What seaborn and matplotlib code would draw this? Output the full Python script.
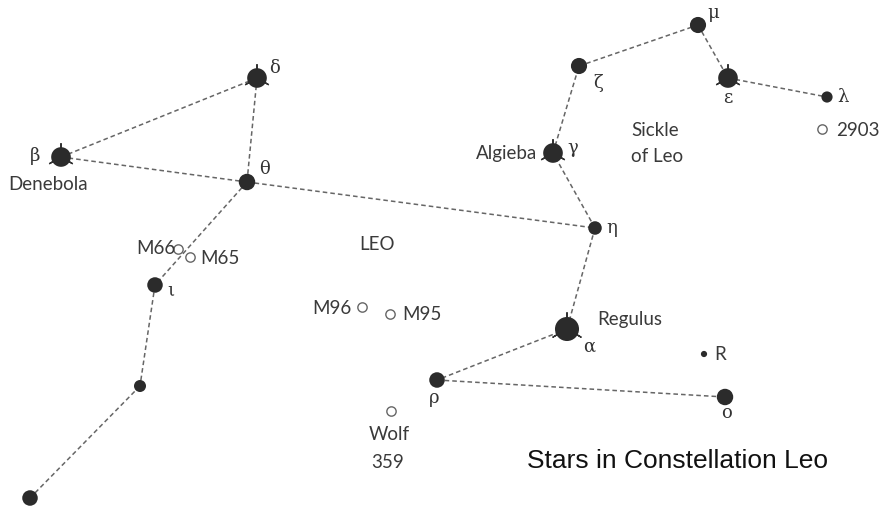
# Star chart of the constellation Leo, recreated with seaborn/matplotlib.
# Positions are in image pixel units (x right, y down).

import numpy as np
import pandas as pd
import matplotlib
matplotlib.use("Agg")
import matplotlib.pyplot as plt
import seaborn as sns

# ---------------------------------------------------------------------------
# Data
# ---------------------------------------------------------------------------

star_names = ["beta", "delta", "theta", "iota", "ups", "sigma", "eta", "gamma",
              "zeta", "mu", "epsilon", "lambda", "alpha", "rho", "omicron", "R"]
star_x = [61, 257, 247, 155, 140, 30, 595, 553, 579, 698, 728, 827, 567, 437, 725, 704]
star_y = [157, 78, 182, 285, 386, 498, 228, 153, 66, 25, 78, 97, 329, 380, 397, 354]
star_size = [200, 200, 140, 125, 75, 125, 95, 200, 135, 135, 200, 65, 300, 125, 140, 20]

# Bright stars drawn with little spikes
spiked_stars = ["beta", "delta", "gamma", "epsilon", "alpha"]

# Deep-sky objects (open circles)
dso_names = ["M66", "M65", "M96", "M95", "Wolf 359", "2903"]
dso_x = [178, 190, 362, 390, 391, 822]
dso_y = [249, 257, 307, 314, 411, 129]

# Stick-figure segments (pairs of star names)
segments = [("beta", "delta"), ("beta", "theta"), ("delta", "theta"),
            ("theta", "eta"), ("theta", "iota"), ("iota", "ups"),
            ("ups", "sigma"), ("eta", "gamma"), ("gamma", "zeta"),
            ("zeta", "mu"), ("mu", "epsilon"), ("epsilon", "lambda"),
            ("eta", "alpha"), ("alpha", "rho"), ("rho", "omicron")]

# Greek letter labels
greek_labels = ["β", "δ", "θ", "ι", "η", "γ", "ζ", "μ", "ε", "λ", "α", "ρ", "ο"]
greek_x = [35, 275, 265, 171, 612, 573, 598, 713, 728, 843, 589, 434, 726]
greek_y = [156, 68, 169, 291, 228, 148, 83, 13, 98, 97, 347, 398, 413]

# Name labels
name_labels = ["Denebola", "M66", "M65", "LEO", "M96", "M95", "Wolf", "359",
               "Algieba", "Regulus", "R", "2903", "Sickle", "of Leo"]
name_x = [8, 176, 200, 359, 352, 402, 369, 371, 537, 597, 714, 836, 631, 631]
name_y = [185, 249, 258, 244, 308, 315, 435, 462, 153, 319, 354, 130, 131, 157]
name_ha = ["left", "right", "left", "left", "right", "left", "left", "left",
           "right", "left", "left", "left", "left", "left"]

title_text = "Stars in Constellation Leo"

# ---------------------------------------------------------------------------
# Figure
# ---------------------------------------------------------------------------

sns.set_style("white")
plt.rcParams["font.family"] = ["Lato", "DejaVu Sans"]

fig = plt.figure(figsize=(8.89, 5.11), dpi=100)
ax = fig.add_axes([0, 0, 1, 1])
ax.set_xlim(0, 889)
ax.set_ylim(511, 0)
ax.axis("off")

stars = pd.DataFrame({"name": star_names, "x": star_x, "y": star_y, "s": star_size})
pos = {n: (x, y) for n, x, y in zip(star_names, star_x, star_y)}

# Dashed connecting lines
for a, b in segments:
    ax.plot([pos[a][0], pos[b][0]], [pos[a][1], pos[b][1]],
            color="#666666", lw=1.1, ls=(0, (3, 2)), zorder=1)

# Spikes behind bright stars
spiked = stars[stars["name"].isin(spiked_stars)]
ax.scatter(spiked["x"], spiked["y"], s=spiked["s"] * 1.8, marker=(3, 2, 0),
           color="#333333", lw=1.0, zorder=2)

# Filled stars
sns.scatterplot(data=stars, x="x", y="y", size="s", sizes=(min(star_size), max(star_size)),
                color="#2b2b2b", edgecolor="none", legend=False, ax=ax, zorder=3)

# Deep-sky objects
dso = pd.DataFrame({"name": dso_names, "x": dso_x, "y": dso_y})
sns.scatterplot(data=dso, x="x", y="y", s=45, facecolor="white", edgecolor="#666666",
                linewidth=1.0, legend=False, ax=ax, zorder=3)

# Labels
for t, x, y in zip(greek_labels, greek_x, greek_y):
    ax.text(x, y, t, fontsize=13, color="#333333", ha="center", va="center",
            family=["DejaVu Serif"])

for t, x, y, ha in zip(name_labels, name_x, name_y, name_ha):
    ax.text(x, y, t, fontsize=13.5, color="#3a3a3a", ha=ha, va="center")

ax.text(527, 461, title_text, fontsize=19, color="#111111", ha="left", va="center",
        family=["Liberation Sans"])

fig.savefig("out.png", dpi=100)
plt.close(fig)
